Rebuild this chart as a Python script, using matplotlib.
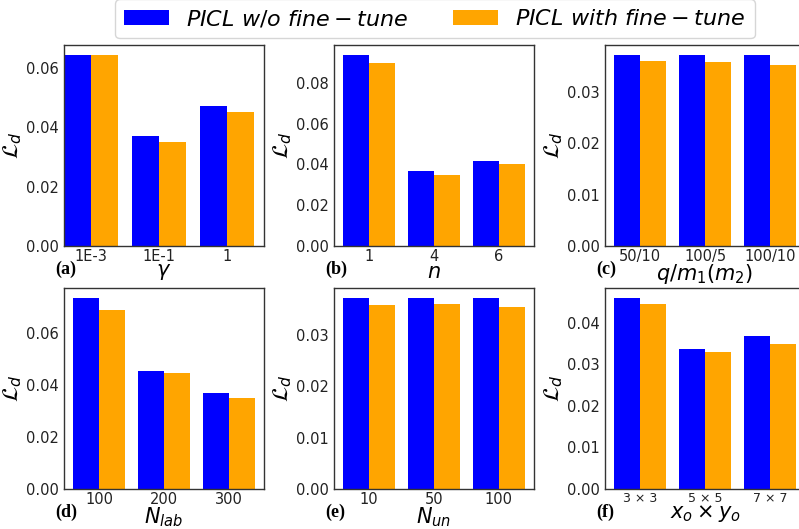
import matplotlib
matplotlib.use("Agg")
import matplotlib.pyplot as plt
import numpy as np

# ---- data (L_d per setting) ----
gamma_ticks = ["1E-3", "1E-1", "1"]
gamma_wo = [0.0645, 0.0371, 0.0473]
gamma_ft = [0.0645, 0.0351, 0.0452]

n_ticks = ["1", "4", "6"]
n_wo = [0.0939, 0.0369, 0.0418]
n_ft = [0.0900, 0.0349, 0.0403]

qm_ticks = ["50/10", "100/5", "100/10"]
qm_wo = [0.0373, 0.0373, 0.0373]
qm_ft = [0.0361, 0.0359, 0.0353]

nlab_ticks = ["100", "200", "300"]
nlab_wo = [0.0736, 0.0455, 0.0370]
nlab_ft = [0.0690, 0.0447, 0.0351]

nun_ticks = ["10", "50", "100"]
nun_wo = [0.0372, 0.0372, 0.0372]
nun_ft = [0.0357, 0.0360, 0.0353]

xy_ticks = ["3 × 3", "5 × 5", "7 × 7"]
xy_wo = [0.0461, 0.0338, 0.0369]
xy_ft = [0.0445, 0.0331, 0.0350]

panels = [
    ("(a)", r"$\gamma$", gamma_ticks, gamma_wo, gamma_ft),
    ("(b)", r"$n$", n_ticks, n_wo, n_ft),
    ("(c)", r"$q/m_1(m_2)$", qm_ticks, qm_wo, qm_ft),
    ("(d)", r"$N_{lab}$", nlab_ticks, nlab_wo, nlab_ft),
    ("(e)", r"$N_{un}$", nun_ticks, nun_wo, nun_ft),
    ("(f)", r"$x_o \times y_o$", xy_ticks, xy_wo, xy_ft),
]

yticks = [
    [0.00, 0.02, 0.04, 0.06],
    [0.00, 0.02, 0.04, 0.06, 0.08],
    [0.00, 0.01, 0.02, 0.03],
    [0.00, 0.02, 0.04, 0.06],
    [0.00, 0.01, 0.02, 0.03],
    [0.00, 0.01, 0.02, 0.03, 0.04],
]

W, H = 799, 529
fig = plt.figure(figsize=(W / 100, H / 100), dpi=100)

lefts = [64, 334, 605]
tops = [45, 288]
aw, ah = 200, 201
width = 0.4

for i, (tag, xlab, ticks, wo, ft) in enumerate(panels):
    r, c = divmod(i, 3)
    ax = fig.add_axes([lefts[c] / W, 1 - (tops[r] + ah) / H, aw / W, ah / H])
    x = np.arange(len(ticks))
    b1 = ax.bar(x - width / 2, wo, width, color="blue",
                label=r"$PICL\ w/o\ fine-tune$")
    b2 = ax.bar(x + width / 2, ft, width, color="orange",
                label=r"$PICL\ with\ fine-tune$")
    if i == 0:
        ax.set_xlim(-0.4, 2.54)
    ax.set_xticks(x)
    ax.set_xticklabels(ticks, fontsize=9 if i == 5 else 10.5)
    ax.set_yticks(yticks[i])
    ax.set_yticklabels([f"{v:.2f}" for v in yticks[i]], fontsize=10.5)
    ax.tick_params(length=0, pad=4, colors="#222222")
    ax.tick_params(axis="x", pad=2)
    for s in ax.spines.values():
        s.set_color("#333333")
        s.set_linewidth(1.0)
    ax.set_ylabel(r"$\mathcal{L}_d$", fontsize=16, labelpad=1)
    ax.set_xlabel(xlab, fontsize=15, labelpad=-1)
    ax.text(-9 / aw, -23 / ah, tag, transform=ax.transAxes, fontsize=13,
            fontweight="bold", family="Liberation Serif", ha="left", va="center")

fig.legend(handles=[b1, b2], loc="upper center", bbox_to_anchor=(435 / W, 1.022),
           ncol=2, fontsize=16, frameon=True, edgecolor="#cccccc")

fig.savefig("out.png", dpi=100)
